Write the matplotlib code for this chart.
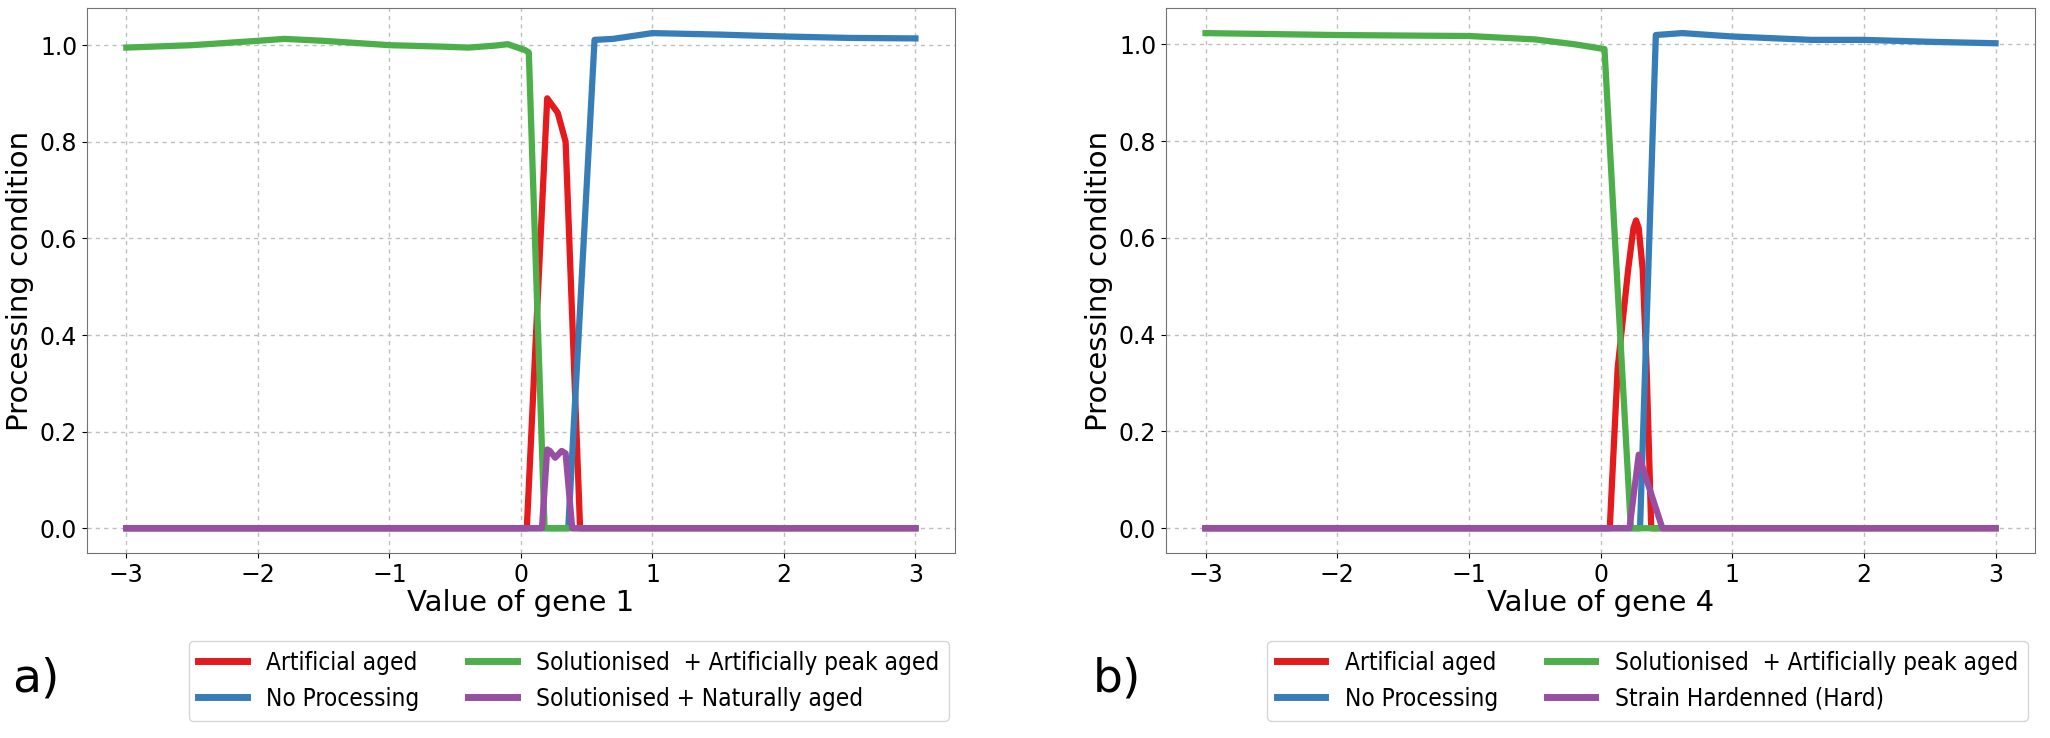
import matplotlib
matplotlib.use("Agg")
from matplotlib import pyplot as plt
from matplotlib import font_manager as fm

# colours (Set1)
red, blue, green, purple = "#e41a1c", "#377eb8", "#4daf4a", "#984ea3"

# ---- panel a) gene 1
a_red_x = [-3, 0.045, 0.2, 0.28, 0.34, 0.45, 3]
a_red_y = [0, 0, 0.89, 0.86, 0.80, 0, 0]
a_blue_x = [-3, 0.36, 0.56, 0.7, 1.0, 1.5, 2.0, 2.5, 3]
a_blue_y = [0, 0, 1.011, 1.013, 1.025, 1.022, 1.018, 1.015, 1.014]
a_green_x = [-3, -2.5, -2, -1.8, -1.5, -1, -0.6, -0.4, -0.2, -0.1, 0.03, 0.06, 0.18, 3]
a_green_y = [0.995, 1.0, 1.009, 1.013, 1.009, 1.0, 0.997, 0.995, 0.999, 1.002, 0.99, 0.985, 0, 0]
a_purple_x = [-3, 0.16, 0.2, 0.22, 0.26, 0.31, 0.34, 0.39, 3]
a_purple_y = [0, 0, 0.163, 0.16, 0.146, 0.16, 0.155, 0, 0]

# ---- panel b) gene 4
b_red_x = [-3, 0.07, 0.13, 0.21, 0.25, 0.27, 0.29, 0.32, 0.35, 0.385, 3]
b_red_y = [0, 0, 0.33, 0.535, 0.62, 0.636, 0.62, 0.535, 0.33, 0, 0]
b_blue_x = [-3, 0.3, 0.42, 0.62, 1.0, 1.6, 2.0, 2.5, 3]
b_blue_y = [0, 0, 1.019, 1.023, 1.016, 1.009, 1.009, 1.005, 1.002]
b_green_x = [-3, -2, -1, -0.5, -0.2, 0.03, 0.23, 3]
b_green_y = [1.023, 1.019, 1.017, 1.01, 1.0, 0.99, 0, 0]
b_purple_x = [-3, 0.22, 0.29, 0.35, 0.47, 3]
b_purple_y = [0, 0, 0.152, 0.10, 0, 0]

labels_a = ["Artificial aged", "No Processing",
            "Solutionised  + Artificially peak aged", "Solutionised + Naturally aged"]
labels_b = ["Artificial aged", "No Processing",
            "Solutionised  + Artificially peak aged", "Strain Hardenned (Hard)"]

# legend text in the reference looks narrow -> condensed DejaVu
cond = fm.FontProperties(family="DejaVu Sans", stretch="condensed", size=17.5)

fig = plt.figure(figsize=(20.5, 7.38), dpi=100)
ax1 = fig.add_axes([0.0424, 0.2507, 0.4234, 0.738])
ax2 = fig.add_axes([0.5688, 0.2507, 0.4239, 0.738])

panels = [
    (ax1, [(a_red_x, a_red_y), (a_blue_x, a_blue_y), (a_green_x, a_green_y), (a_purple_x, a_purple_y)],
     labels_a, "Value of gene 1"),
    (ax2, [(b_red_x, b_red_y), (b_blue_x, b_blue_y), (b_green_x, b_green_y), (b_purple_x, b_purple_y)],
     labels_b, "Value of gene 4"),
]

for ax, series, labels, xlab in panels:
    for (x, y), c, lab in zip(series, [red, blue, green, purple], labels):
        ax.plot(x, y, color=c, lw=4.5, label=lab)
    ax.grid(True, linestyle=(0, (3, 3)), color="0.75", lw=1)
    ax.set_xticks([-3, -2, -1, 0, 1, 2, 3])
    ax.set_yticks([0, 0.2, 0.4, 0.6, 0.8, 1.0])
    ax.tick_params(labelsize=17)
    ax.set_xlabel(xlab, fontsize=21, labelpad=2)
    ax.set_ylabel("Processing condition", fontsize=21)
    for s in ax.spines.values():
        s.set_color("0.45")

leg_a = ax1.legend(loc="upper right", bbox_to_anchor=(0.469, 0.148), bbox_transform=fig.transFigure,
                   ncol=2, prop=cond, columnspacing=2.0)
leg_b = ax2.legend(loc="upper right", bbox_to_anchor=(0.995, 0.148), bbox_transform=fig.transFigure,
                   ncol=2, prop=cond, columnspacing=2.0)
for leg in (leg_a, leg_b):
    for l in leg.get_lines():
        l.set_linewidth(5)

fig.text(0.006, 0.08, "a)", fontsize=34, va="center")
fig.text(0.533, 0.08, "b)", fontsize=34, va="center")

fig.savefig("out.png", dpi=100)
